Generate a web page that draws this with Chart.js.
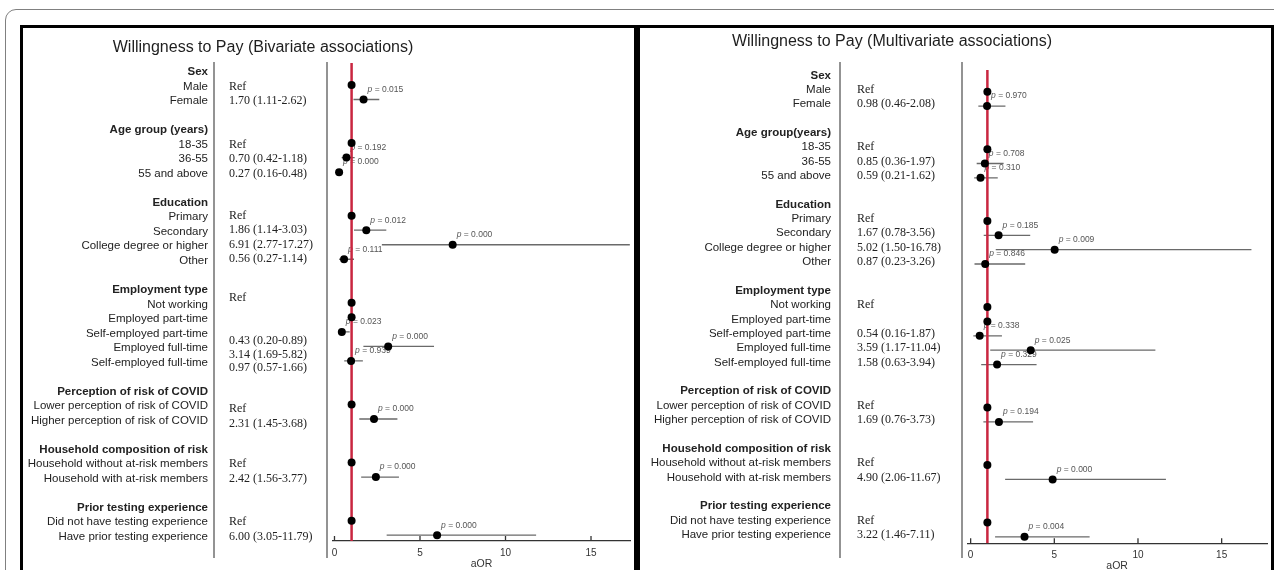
<!DOCTYPE html>
<html>
<head>
<meta charset="utf-8">
<script src="https://cdn.jsdelivr.net/npm/chart.js@4.4.1/dist/chart.umd.min.js"></script>
<style>
  html, body { margin: 0; padding: 0; background: #fff; overflow: hidden; width: 1274px; height: 570px; }
  .frame { position: absolute; left: 5px; top: 9px; width: 1300px; height: 620px; border: 1.5px solid #808080; border-radius: 11px; }
  .panel { position: absolute; top: 25px; height: 620px; border: 3px solid #000; background: #fff; box-sizing: border-box; }
  #panelBiv { left: 20px; width: 617px; }
  #panelMulti { left: 637px; width: 637px; }
  canvas { position: absolute; top: 28px; }
  #chartBiv { left: 23px; }
  #chartMulti { left: 640px; }
</style>
</head>
<body>
<div class="frame"></div>
<div class="panel" id="panelBiv"></div>
<div class="panel" id="panelMulti"></div>
<canvas id="chartBiv" width="611" height="550"></canvas>
<canvas id="chartMulti" width="631" height="550"></canvas>
<script>
// ---- data ----
const groupsBiv = ['Sex', 'Age group (years)', 'Education', 'Employment type',
  'Perception of risk of COVID', 'Household composition of risk', 'Prior testing experience'];
const groupsMulti = ['Sex', 'Age group(years)', 'Education', 'Employment type',
  'Perception of risk of COVID', 'Household composition of risk', 'Prior testing experience'];
const levels = [
  ['Male', 'Female'],
  ['18-35', '36-55', '55 and above'],
  ['Primary', 'Secondary', 'College degree or higher', 'Other'],
  ['Not working', 'Employed part-time', 'Self-employed part-time', 'Employed full-time', 'Self-employed full-time'],
  ['Lower perception of risk of COVID', 'Higher perception of risk of COVID'],
  ['Household without at-risk members', 'Household with at-risk members'],
  ['Did not have testing experience', 'Have prior testing experience']
];
const xTicks = [0, 5, 10, 15];

// Bivariate associations
const bivOR = [1, 1.70, 1, 0.70, 0.27, 1, 1.86, 6.91, 0.56, 1, 1, 0.43, 3.14, 0.97, 1, 2.31, 1, 2.42, 1, 6.00];
const bivLo = [null, 1.11, null, 0.42, 0.16, null, 1.14, 2.77, 0.27, null, null, 0.20, 1.69, 0.57, null, 1.45, null, 1.56, null, 3.05];
const bivHi = [null, 2.62, null, 1.18, 0.48, null, 3.03, 17.27, 1.14, null, null, 0.89, 5.82, 1.66, null, 3.68, null, 3.77, null, 11.79];
const bivP = [null, '0.015', null, '0.192', '0.000', null, '0.012', '0.000', '0.111', null, null, '0.023', '0.000', '0.939', null, '0.000', null, '0.000', null, '0.000'];

// Multivariate associations
const mulOR = [1, 0.98, 1, 0.85, 0.59, 1, 1.67, 5.02, 0.87, 1, 1, 0.54, 3.59, 1.58, 1, 1.69, 1, 4.90, 1, 3.22];
const mulLo = [null, 0.46, null, 0.36, 0.21, null, 0.78, 1.50, 0.23, null, null, 0.16, 1.17, 0.63, null, 0.76, null, 2.06, null, 1.46];
const mulHi = [null, 2.08, null, 1.97, 1.62, null, 3.56, 16.78, 3.26, null, null, 1.87, 11.04, 3.94, null, 3.73, null, 11.67, null, 7.11];
const mulP = [null, '0.970', null, '0.708', '0.310', null, '0.185', '0.009', '0.846', null, null, '0.338', '0.025', '0.329', null, '0.194', null, '0.000', null, '0.004'];

// ---- layout helpers ----
const SANS = '"Liberation Sans", Arial, sans-serif';
const SERIF = '"Liberation Serif", "Times New Roman", serif';

// one header row per group, then its levels, then a spacer row
function buildRows() {
  const header = [], level = [], firstInGroup = [];
  let r = 0;
  levels.forEach((lv, g) => {
    header.push(r);
    lv.forEach((_, k) => { level.push(r + 1 + k); firstInGroup.push(k === 0); });
    r += lv.length + 2;
  });
  return { header, level, firstInGroup };
}

function estimateText(or, lo, hi, first) {
  if (lo == null) return first ? 'Ref' : '';
  return `${or.toFixed(2)} (${lo.toFixed(2)}-${hi.toFixed(2)})`;
}

function makeForestPlugin(p, rows) {
  return {
    id: 'forestText',
    beforeDatasetsDraw(chart) {
      const { ctx } = chart, xs = chart.scales.x, ys = chart.scales.y;
      ctx.save();
      ctx.fillStyle = '#555';
      ctx.textBaseline = 'middle';
      ctx.textAlign = 'left';
      p.pv.forEach((pv, i) => {
        if (pv == null) return;
        const px = xs.getPixelForValue(p.or[i]) + 4;
        const py = ys.getPixelForValue(rows.level[i]) - 10;
        ctx.font = 'italic 8.5px ' + SANS;
        ctx.fillText('p', px, py);
        const w = ctx.measureText('p').width;
        ctx.font = '8.5px ' + SANS;
        ctx.fillText(' = ' + pv, px + w, py);
      });
      ctx.restore();
    },
    afterDraw(chart) {
      const { ctx } = chart, xs = chart.scales.x, ys = chart.scales.y;
      const area = chart.chartArea;
      ctx.save();
      // title
      ctx.fillStyle = '#1e1e1e';
      ctx.font = '16px ' + SANS;
      ctx.textAlign = 'center';
      ctx.textBaseline = 'middle';
      ctx.fillText(p.title, p.titleX, p.titleY);

      // divider lines
      ctx.strokeStyle = '#707070';
      ctx.lineWidth = 1.5;
      ctx.beginPath();
      ctx.moveTo(p.divX, p.lineTop); ctx.lineTo(p.divX, p.lineBottom);
      ctx.moveTo(p.plotLineX, p.lineTop); ctx.lineTo(p.plotLineX, p.lineBottom);
      ctx.stroke();

      // row labels
      ctx.textAlign = 'right';
      ctx.fillStyle = '#222';
      p.groups.forEach((g, gi) => {
        ctx.font = 'bold 11.5px ' + SANS;
        ctx.fillText(g, p.labelX, ys.getPixelForValue(rows.header[gi]) + p.labelDy);
      });
      ctx.font = '11.5px ' + SANS;
      levels.flat().forEach((name, i) => {
        ctx.fillText(name, p.labelX, ys.getPixelForValue(rows.level[i]) + p.labelDy);
      });

      // estimate column
      ctx.textAlign = 'left';
      ctx.font = '12px ' + SERIF;
      p.or.forEach((v, i) => {
        const t = estimateText(v, p.lo[i], p.hi[i], rows.firstInGroup[i]);
        if (!t) return;
        const shift = p.estShift[i] || 0;
        ctx.fillText(t, p.estX, ys.getPixelForValue(rows.level[i] + shift) + p.labelDy);
      });

      // inward tick marks on the aOR axis
      ctx.strokeStyle = '#333';
      ctx.lineWidth = 1.3;
      ctx.beginPath();
      xs.ticks.forEach(t => {
        const tx = xs.getPixelForValue(t.value);
        ctx.moveTo(tx, area.bottom); ctx.lineTo(tx, area.bottom - 5);
      });
      ctx.stroke();
      ctx.restore();
    }
  };
}

function buildPanel(canvasId, p) {
  const rows = buildRows();
  const points = p.or.map((v, i) => ({ x: v, y: rows.level[i] }));
  const ci = [];
  p.lo.forEach((lo, i) => {
    if (lo == null) return;
    const r = rows.level[i];
    ci.push({ x: lo, y: r }, { x: p.hi[i], y: r }, { x: p.hi[i], y: null });
  });
  return new Chart(document.getElementById(canvasId), {
    type: 'scatter',
    data: {
      datasets: [
        { data: points, pointRadius: 4, pointHoverRadius: 4, backgroundColor: '#000', borderWidth: 0, order: 0 },
        { data: [{ x: 1, y: p.yMin }, { x: 1, y: p.yMax }], showLine: true, borderColor: '#c92640',
          borderWidth: 2.5, pointRadius: 0, order: 1 },
        { data: ci, showLine: true, spanGaps: false, borderColor: '#6a6a6a', borderWidth: 1.3,
          pointRadius: 0, order: 2 }
      ]
    },
    options: {
      responsive: false,
      animation: false,
      events: [],
      layout: { padding: { left: p.padLeft, top: p.padTop, right: p.padRight, bottom: 0 } },
      plugins: { legend: { display: false }, tooltip: { enabled: false } },
      scales: {
        x: {
          type: 'linear', position: 'bottom', min: p.xMin, max: p.xMax,
          grid: { display: false, drawTicks: false },
          border: { display: true, color: '#333', width: 1.3 },
          afterBuildTicks: s => { s.ticks = xTicks.map(v => ({ value: v })); },
          afterFit: s => { s.height = p.axisH; },
          ticks: { padding: 6, color: '#333', autoSkip: false, maxRotation: 0,
                   font: { family: SANS, size: 10 } },
          title: { display: true, text: 'aOR', color: '#333', font: { family: SANS, size: 10.5 },
                   padding: { top: 0, bottom: p.titlePad } }
        },
        y: { type: 'linear', display: false, reverse: true, min: p.yMin, max: p.yMax }
      }
    },
    plugins: [makeForestPlugin(p, rows)]
  });
}

buildPanel('chartBiv', {
  title: 'Willingness to Pay (Bivariate associations)', titleX: 240, titleY: 20,
  groups: groupsBiv, or: bivOR, lo: bivLo, hi: bivHi, pv: bivP,
  padLeft: 310, padTop: 35, padRight: 2.3, axisH: 37, titlePad: 7.7,
  xMin: -0.087, xMax: 17.28, yMin: -0.515, yMax: 32.40,
  labelX: 185, labelDy: 1.5, estX: 206, divX: 191, plotLineX: 304, lineTop: 34, lineBottom: 530,
  estShift: { 5: -0.12, 6: -0.12, 7: -0.12, 8: -0.12, 9: -0.45, 11: 0.5, 12: 0.48, 13: 0.4, 14: 0.22, 15: 0.22 }
});

buildPanel('chartMulti', {
  title: 'Willingness to Pay (Multivariate associations)', titleX: 252, titleY: 14,
  groups: groupsMulti, or: mulOR, lo: mulLo, hi: mulHi, pv: mulP,
  padLeft: 327.3, padTop: 42, padRight: 1, axisH: 34.7, titlePad: 5.7,
  xMin: -0.2, xMax: 17.71, yMin: -0.511, yMax: 32.45,
  labelX: 191, labelDy: -2, estX: 217, divX: 200, plotLineX: 322, lineTop: 34, lineBottom: 530,
  estShift: {}
});
</script>
</body>
</html>
